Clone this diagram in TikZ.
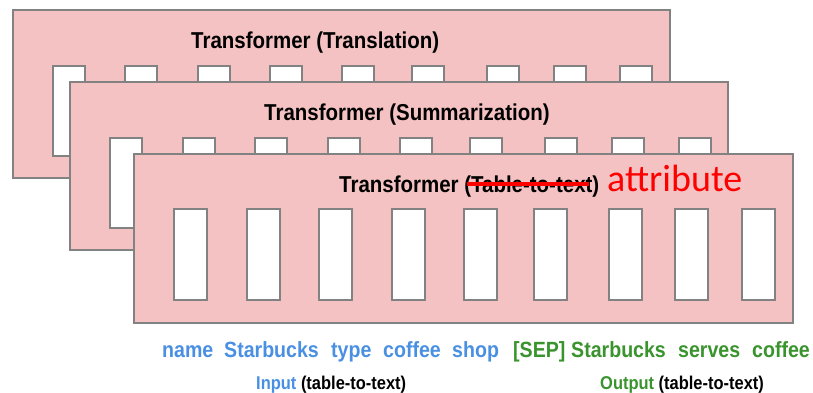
\documentclass[tikz,border=0pt]{standalone}
\usepackage{fontspec}
\setmainfont{Liberation Sans}
\newfontfamily\narrowsans[FakeStretch=0.89]{Liberation Sans}
\newfontfamily\calib{Carlito}
\definecolor{panelpink}{RGB}{244,194,194}
\definecolor{edgegray}{RGB}{130,130,130}
\definecolor{tokblue}{RGB}{74,144,226}
\definecolor{tokgreen}{RGB}{58,148,46}
\tikzset{
  panel/.style={draw=edgegray, fill=panelpink, line width=2pt, inner sep=0pt,
    anchor=north west, minimum width=#1pt, minimum height=168pt},
  slot/.style={draw=edgegray, fill=white, line width=1.6pt, inner sep=0pt,
    anchor=north west, minimum height=90pt, minimum width=32pt},
  title/.style={anchor=base west, inner sep=0pt,
    font=\narrowsans\bfseries\fontsize{23}{23}\selectfont},
  tokin/.style={anchor=base west, inner sep=0pt, text=tokblue,
    font=\narrowsans\bfseries\fontsize{22}{22}\selectfont},
  tokout/.style={tokin, text=tokgreen},
  caption/.style={anchor=base west, inner sep=0pt,
    font=\narrowsans\bfseries\fontsize{18.5}{18.5}\selectfont}
}
\begin{document}
\begin{tikzpicture}[x=1pt,y=-1pt]
\useasboundingbox (0,0) rectangle (813,392);
\fill[white] (0,0) rectangle (813,392);

% back layer: translation
\node[panel=657] (p1) at (12,9) {};
\foreach \x [count=\i] in {52,124,197,269,341,411,486,553,619}
  \node[slot] (a\i) at (\x,65) {};
\node[title] (t1) at (191,48) {Transformer (Translation)};

% middle layer: summarization
\node[panel=658] (p2) at (69,81) {};
\foreach \x [count=\i] in {109,182,254,327,399,469,544,611,678}
  \node[slot] (b\i) at (\x,137) {};
\node[title] (t2) at (264,120) {Transformer (Summarization)};

% front layer: table-to-text
\node[panel=659, minimum height=169pt] (p3) at (133,153) {};
\foreach \x [count=\i] in {173,246,318,391,463,533,608,674,741}
  \node[slot, minimum width=33pt, minimum height=91pt] (c\i) at (\x,208) {};
\node[title] (t3) at (339,192) {Transformer (Table-to-text)};
\coordinate (s1) at (467,184);
\coordinate (s2) at (589,184);
\draw[red, line width=3.5pt] (s1) -- (s2);
\node[anchor=base west, inner sep=0pt, text=red,
  font=\calib\fontsize{38}{38}\selectfont] (attr) at (607,191) {attribute};

% token sequence
\node[tokin] (w1) at (162,357) {name};
\node[tokin] (w2) at (224,357) {Starbucks};
\node[tokin] (w3) at (331,357) {type};
\node[tokin] (w4) at (383,357) {coffee};
\node[tokin] (w5) at (452,357) {shop};
\node[tokout] (w6) at (513,357) {[SEP]};
\node[tokout] (w7) at (571,357) {Starbucks};
\node[tokout] (w8) at (678,357) {serves};
\node[tokout] (w9) at (752,357) {coffee};

% captions
\node[caption] (lin) at (256,389)
  {{\color{tokblue}Input} (table-to-text)};
\node[caption] (lout) at (600,389)
  {{\color{tokgreen}Output} (table-to-text)};
\end{tikzpicture}
\end{document}
